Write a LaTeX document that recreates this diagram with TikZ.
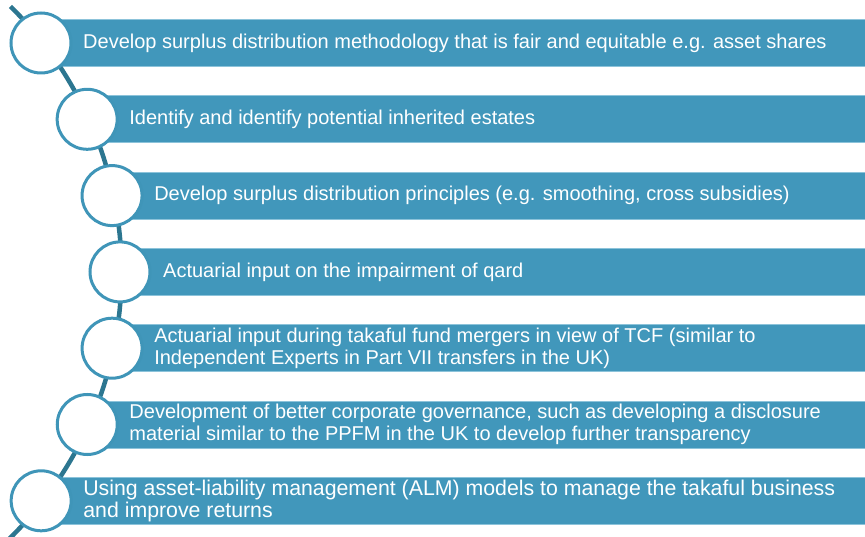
\documentclass[tikz,border=0pt]{standalone}
\usepackage{fontspec}
\setmainfont{Liberation Sans}
\usetikzlibrary{calc}
\definecolor{barblue}{HTML}{4197BB}
\definecolor{baredge}{HTML}{8CC3DA}
\definecolor{ringblue}{HTML}{3F95B8}
\definecolor{spine}{HTML}{2C7690}
\begin{document}
\begin{tikzpicture}[x=1pt,y=1pt,
  bar/.style={fill=barblue, draw=baredge, line width=0.7pt, minimum height=47pt,
    inner sep=0pt, outer sep=0pt, anchor=west},
  ring/.style={circle, fill=white, draw=ringblue, line width=3pt,
    minimum size=60pt, inner sep=0pt},
  caption/.style={text=white, font=\fontsize{20}{22}\selectfont, align=left,
    anchor=west, inner sep=0pt},
  widecaption/.style={caption, font=\fontsize{21.3}{21.6}\selectfont}]
\useasboundingbox (0,0) rectangle (865,-537);
% centre of the large arc that threads the rings
\coordinate (hub) at (-251.4,-272);
% bars
\foreach \i in {0,...,6}{
  \pgfmathsetmacro\cy{43+76.3*\i}
  \pgfmathsetmacro\cx{-251.4+100*sqrt(3.714^2-((\cy-272)/100)^2)}
  \pgfmathsetmacro\bw{866-\cx}
  \coordinate (p\i) at (\cx,-\cy);
  \node[bar, minimum width=\bw pt] (bar\i) at (p\i) {};
}
% spine
\coordinate (top) at ($(hub)+(45.4:373)$);
\draw[spine, line width=4.5pt] (top) arc[start angle=45.4, end angle=-46.2, radius=373];
% rings
\foreach \i in {0,...,6}{
  \node[ring] (ring\i) at (p\i) {};
}
% captions
\foreach \i/\dx/\txt in {
  0/42/{Develop surplus distribution methodology that is fair and equitable e.g. asset shares},
  1/42/{Identify and identify potential inherited estates},
  2/42/{Develop surplus distribution principles (e.g. smoothing, cross subsidies)},
  3/43/{Actuarial input on the impairment of qard},
  4/42/{Actuarial input during takaful fund mergers in view of TCF (similar to\\Independent Experts in Part VII transfers in the UK)},
  5/42/{Development of better corporate governance, such as developing a disclosure\\material similar to the PPFM in the UK to develop further transparency}}{
  \node[caption] (text\i) at ($(p\i)+(\dx,0)$) {\txt};
}
\node[widecaption] (text6) at ($(p6)+(42,0)$)
  {Using asset-liability management (ALM) models to manage the takaful business\\and improve returns};
\end{tikzpicture}
\end{document}
